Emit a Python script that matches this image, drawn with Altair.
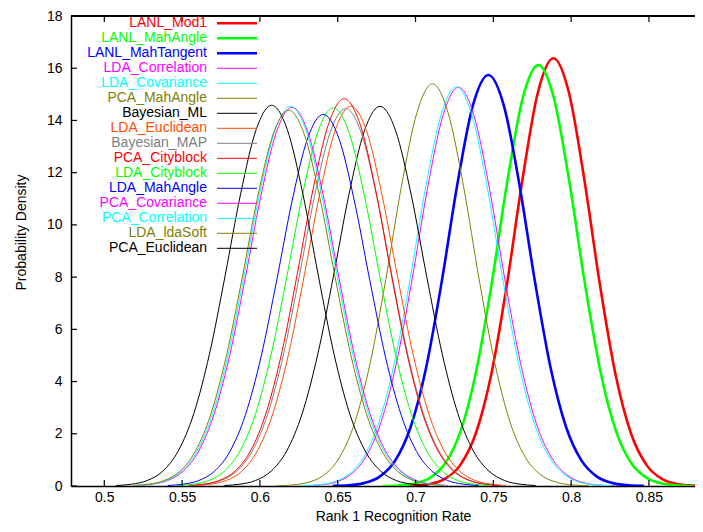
import altair as alt
import pandas as pd

# ---------------- data ----------------
SERIES = ["LANL_Mod1", "LANL_MahAngle", "LANL_MahTangent", "LDA_Correlation",
          "LDA_Covariance", "PCA_MahAngle", "Bayesian_ML", "LDA_Euclidean",
          "Bayesian_MAP", "PCA_Cityblock", "LDA_Cityblock", "LDA_MahAngle",
          "PCA_Covariance", "PCA_Correlation", "LDA_ldaSoft", "PCA_Euclidean"]
COLORS = ["#ff0000", "#00ff00", "#0000ff", "#ff00ff", "#00ffff", "#808000",
          "#000000", "#ff4d00", "#808080", "#ff0000", "#00ff00", "#0000ff",
          "#ff00ff", "#00ffff", "#808000", "#000000"]
WIDTHS = [2.6, 2.6, 2.6] + [1.0] * 13

X_TICKS = [0.5, 0.55, 0.6, 0.65, 0.7, 0.75, 0.8, 0.85]
Y_TICKS = [0, 2, 4, 6, 8, 10, 12, 14, 16, 18]

X_LANL_Mod1 = [0.6886, 0.6986, 0.7086, 0.7186, 0.7286, 0.7386, 0.7486, 0.7586, 0.7686, 0.7786, 0.7886,
               0.7986, 0.8086, 0.8186, 0.8286, 0.8386, 0.8486, 0.8586, 0.8686, 0.8786, 0.8886]
Y_LANL_Mod1 = [0.00, 0.02, 0.07, 0.26, 0.79, 1.99, 4.25, 7.67, 11.69, 15.06, 16.38,
               15.06, 11.69, 7.67, 4.25, 1.99, 0.79, 0.26, 0.07, 0.02, 0.00]

X_LANL_MahAngle = [0.6789, 0.6889, 0.6989, 0.7089, 0.7189, 0.7289, 0.7389, 0.7489, 0.7589, 0.7689, 0.7789,
                   0.7889, 0.7989, 0.8089, 0.8189, 0.8289, 0.8389, 0.8489, 0.8589, 0.8689, 0.8789]
Y_LANL_MahAngle = [0.00, 0.02, 0.09, 0.30, 0.85, 2.09, 4.37, 7.73, 11.63, 14.86, 16.12,
                   14.86, 11.63, 7.73, 4.37, 2.09, 0.85, 0.30, 0.09, 0.02, 0.00]

X_LANL_MahTangent = [0.6468, 0.6568, 0.6668, 0.6768, 0.6868, 0.6968, 0.7068, 0.7168, 0.7268, 0.7368, 0.7468,
                     0.7568, 0.7668, 0.7768, 0.7868, 0.7968, 0.8068, 0.8168, 0.8268, 0.8368, 0.8468]
Y_LANL_MahTangent = [0.01, 0.03, 0.11, 0.35, 0.96, 2.25, 4.53, 7.81, 11.53, 14.56, 15.74,
                     14.56, 11.53, 7.81, 4.53, 2.25, 0.96, 0.35, 0.11, 0.03, 0.01]

X_LDA_Correlation = [0.6276, 0.6376, 0.6476, 0.6576, 0.6676, 0.6776, 0.6876, 0.6976, 0.7076, 0.7176, 0.7276,
                     0.7376, 0.7476, 0.7576, 0.7676, 0.7776, 0.7876, 0.7976, 0.8076, 0.8176, 0.8276]
Y_LDA_Correlation = [0.01, 0.04, 0.13, 0.41, 1.07, 2.40, 4.68, 7.85, 11.36, 14.18, 15.27,
                     14.18, 11.36, 7.85, 4.68, 2.40, 1.07, 0.41, 0.13, 0.04, 0.01]

X_LDA_Covariance = [0.6263, 0.6363, 0.6463, 0.6563, 0.6663, 0.6763, 0.6863, 0.6963, 0.7063, 0.7163, 0.7263,
                    0.7363, 0.7463, 0.7563, 0.7663, 0.7763, 0.7863, 0.7963, 0.8063, 0.8163, 0.8263]
Y_LDA_Covariance = [0.01, 0.04, 0.13, 0.41, 1.07, 2.41, 4.68, 7.85, 11.37, 14.19, 15.28,
                    14.19, 11.37, 7.85, 4.68, 2.41, 1.07, 0.41, 0.13, 0.04, 0.01]

X_PCA_MahAngle = [0.6109, 0.6209, 0.6309, 0.6409, 0.6509, 0.6609, 0.6709, 0.6809, 0.6909, 0.7009, 0.7109,
                  0.7209, 0.7309, 0.7409, 0.7509, 0.7609, 0.7709, 0.7809, 0.7909, 0.8009, 0.8109]
Y_PCA_MahAngle = [0.01, 0.04, 0.14, 0.41, 1.07, 2.42, 4.72, 7.91, 11.46, 14.30, 15.40,
                  14.30, 11.46, 7.91, 4.72, 2.42, 1.07, 0.41, 0.14, 0.04, 0.01]

X_Bayesian_ML = [0.5772, 0.5872, 0.5972, 0.6072, 0.6172, 0.6272, 0.6372, 0.6472, 0.6572, 0.6672, 0.6772,
                 0.6872, 0.6972, 0.7072, 0.7172, 0.7272, 0.7372, 0.7472, 0.7572, 0.7672, 0.7772]
Y_Bayesian_ML = [0.02, 0.07, 0.21, 0.57, 1.34, 2.78, 5.05, 8.02, 11.16, 13.61, 14.54,
                 13.61, 11.16, 8.02, 5.05, 2.78, 1.34, 0.57, 0.21, 0.07, 0.02]

X_LDA_Euclidean = [0.5584, 0.5684, 0.5784, 0.5884, 0.5984, 0.6084, 0.6184, 0.6284, 0.6384, 0.6484, 0.6584,
                   0.6684, 0.6784, 0.6884, 0.6984, 0.7084, 0.7184, 0.7284, 0.7384, 0.7484, 0.7584]
Y_LDA_Euclidean = [0.02, 0.07, 0.21, 0.57, 1.35, 2.79, 5.05, 8.03, 11.17, 13.62, 14.55,
                   13.62, 11.17, 8.03, 5.05, 2.79, 1.35, 0.57, 0.21, 0.07, 0.02]

X_Bayesian_MAP = [0.5551, 0.5651, 0.5751, 0.5851, 0.5951, 0.6051, 0.6151, 0.6251, 0.6351, 0.6451, 0.6551,
                  0.6651, 0.6751, 0.6851, 0.6951, 0.7051, 0.7151, 0.7251, 0.7351, 0.7451, 0.7551]
Y_Bayesian_MAP = [0.02, 0.07, 0.21, 0.57, 1.34, 2.77, 5.02, 7.97, 11.09, 13.53, 14.45,
                  13.53, 11.09, 7.97, 5.02, 2.77, 1.34, 0.57, 0.21, 0.07, 0.02]

X_PCA_Cityblock = [0.5542, 0.5642, 0.5742, 0.5842, 0.5942, 0.6042, 0.6142, 0.6242, 0.6342, 0.6442, 0.6542,
                   0.6642, 0.6742, 0.6842, 0.6942, 0.7042, 0.7142, 0.7242, 0.7342, 0.7442, 0.7542]
Y_PCA_Cityblock = [0.02, 0.07, 0.22, 0.58, 1.37, 2.84, 5.15, 8.18, 11.38, 13.88, 14.83,
                   13.88, 11.38, 8.18, 5.15, 2.84, 1.37, 0.58, 0.22, 0.07, 0.02]

X_LDA_Cityblock = [0.5472, 0.5572, 0.5672, 0.5772, 0.5872, 0.5972, 0.6072, 0.6172, 0.6272, 0.6372, 0.6472,
                   0.6572, 0.6672, 0.6772, 0.6872, 0.6972, 0.7072, 0.7172, 0.7272, 0.7372, 0.7472]
Y_LDA_Cityblock = [0.02, 0.07, 0.21, 0.57, 1.34, 2.77, 5.03, 7.99, 11.11, 13.55, 14.48,
                   13.55, 11.11, 7.99, 5.03, 2.77, 1.34, 0.57, 0.21, 0.07, 0.02]

X_LDA_MahAngle = [0.5407, 0.5507, 0.5607, 0.5707, 0.5807, 0.5907, 0.6007, 0.6107, 0.6207, 0.6307, 0.6407,
                  0.6507, 0.6607, 0.6707, 0.6807, 0.6907, 0.7007, 0.7107, 0.7207, 0.7307, 0.7407]
Y_LDA_MahAngle = [0.02, 0.07, 0.21, 0.56, 1.32, 2.73, 4.94, 7.85, 10.92, 13.32, 14.23,
                  13.32, 10.92, 7.85, 4.94, 2.73, 1.32, 0.56, 0.21, 0.07, 0.02]

X_PCA_Covariance = [0.5207, 0.5307, 0.5407, 0.5507, 0.5607, 0.5707, 0.5807, 0.5907, 0.6007, 0.6107, 0.6207,
                    0.6307, 0.6407, 0.6507, 0.6607, 0.6707, 0.6807, 0.6907, 0.7007, 0.7107, 0.7207]
Y_PCA_Covariance = [0.02, 0.07, 0.21, 0.57, 1.34, 2.78, 5.03, 8.00, 11.13, 13.57, 14.50,
                    13.57, 11.13, 8.00, 5.03, 2.78, 1.34, 0.57, 0.21, 0.07, 0.02]

X_PCA_Correlation = [0.5197, 0.5297, 0.5397, 0.5497, 0.5597, 0.5697, 0.5797, 0.5897, 0.5997, 0.6097, 0.6197,
                     0.6297, 0.6397, 0.6497, 0.6597, 0.6697, 0.6797, 0.6897, 0.6997, 0.7097, 0.7197]
Y_PCA_Correlation = [0.02, 0.07, 0.21, 0.57, 1.34, 2.78, 5.05, 8.02, 11.16, 13.61, 14.54,
                     13.61, 11.16, 8.02, 5.05, 2.78, 1.34, 0.57, 0.21, 0.07, 0.02]

X_LDA_ldaSoft = [0.5185, 0.5285, 0.5385, 0.5485, 0.5585, 0.5685, 0.5785, 0.5885, 0.5985, 0.6085, 0.6185,
                 0.6285, 0.6385, 0.6485, 0.6585, 0.6685, 0.6785, 0.6885, 0.6985, 0.7085, 0.7185]
Y_LDA_ldaSoft = [0.02, 0.07, 0.21, 0.56, 1.33, 2.76, 5.00, 7.94, 11.05, 13.47, 14.39,
                 13.47, 11.05, 7.94, 5.00, 2.76, 1.33, 0.56, 0.21, 0.07, 0.02]

X_PCA_Euclidean = [0.5076, 0.5176, 0.5276, 0.5376, 0.5476, 0.5576, 0.5676, 0.5776, 0.5876, 0.5976, 0.6076,
                   0.6176, 0.6276, 0.6376, 0.6476, 0.6576, 0.6676, 0.6776, 0.6876, 0.6976, 0.7076]
Y_PCA_Euclidean = [0.02, 0.07, 0.21, 0.57, 1.35, 2.79, 5.06, 8.04, 11.19, 13.65, 14.58,
                   13.65, 11.19, 8.04, 5.06, 2.79, 1.35, 0.57, 0.21, 0.07, 0.02]

CURVES = {
    "LANL_Mod1": (X_LANL_Mod1, Y_LANL_Mod1),
    "LANL_MahAngle": (X_LANL_MahAngle, Y_LANL_MahAngle),
    "LANL_MahTangent": (X_LANL_MahTangent, Y_LANL_MahTangent),
    "LDA_Correlation": (X_LDA_Correlation, Y_LDA_Correlation),
    "LDA_Covariance": (X_LDA_Covariance, Y_LDA_Covariance),
    "PCA_MahAngle": (X_PCA_MahAngle, Y_PCA_MahAngle),
    "Bayesian_ML": (X_Bayesian_ML, Y_Bayesian_ML),
    "LDA_Euclidean": (X_LDA_Euclidean, Y_LDA_Euclidean),
    "Bayesian_MAP": (X_Bayesian_MAP, Y_Bayesian_MAP),
    "PCA_Cityblock": (X_PCA_Cityblock, Y_PCA_Cityblock),
    "LDA_Cityblock": (X_LDA_Cityblock, Y_LDA_Cityblock),
    "LDA_MahAngle": (X_LDA_MahAngle, Y_LDA_MahAngle),
    "PCA_Covariance": (X_PCA_Covariance, Y_PCA_Covariance),
    "PCA_Correlation": (X_PCA_Correlation, Y_PCA_Correlation),
    "LDA_ldaSoft": (X_LDA_ldaSoft, Y_LDA_ldaSoft),
    "PCA_Euclidean": (X_PCA_Euclidean, Y_PCA_Euclidean),
}

# ---------------- tables ----------------
rows = []
for i, name in enumerate(SERIES):
    xs, ys = CURVES[name]
    for x, y in zip(xs, ys):
        rows.append({"series": name, "idx": i, "x": x, "y": y,
                     "color": COLORS[i], "w": WIDTHS[i]})
curves_df = pd.DataFrame(rows)
legend_df = pd.DataFrame({"series": SERIES, "color": COLORS, "w": WIDTHS})
xt_df = pd.DataFrame({"t": X_TICKS})
yt_df = pd.DataFrame({"t": Y_TICKS})

FONT = "Liberation Sans"
W, H = 624, 470
XDOM = [0.4786, 0.8796]
YDOM = [0, 18]

xscale = alt.Scale(domain=XDOM, nice=False, zero=False)
yscale = alt.Scale(domain=YDOM, nice=False)

lines = alt.Chart(curves_df).mark_line(interpolate="monotone", clip=True).encode(
    x=alt.X("x:Q", scale=xscale,
            axis=alt.Axis(values=X_TICKS, format="~g", ticks=False, grid=False,
                          domainColor="black", domainWidth=1.5,
                          labelFont=FONT, labelFontSize=14, labelColor="black",
                          labelPadding=4,
                          title="Rank 1 Recognition Rate", titleFont=FONT,
                          titleFontSize=14, titleFontWeight="normal",
                          titleColor="black", titleX=322, titleY=34,
                          titleBaseline="alphabetic", titleAlign="center")),
    y=alt.Y("y:Q", scale=yscale,
            axis=alt.Axis(values=Y_TICKS, format="d", ticks=False, grid=False,
                          domainColor="black", domainWidth=1.5,
                          labelFont=FONT, labelFontSize=14, labelColor="black",
                          labelPadding=9,
                          title="Probability Density", titleFont=FONT,
                          titleFontSize=14, titleFontWeight="normal",
                          titleColor="black", titleX=-50, titleY=216,
                          titleBaseline="middle", titleAlign="center")),
    detail="series:N",
    color=alt.Color("color:N", scale=None),
    strokeWidth=alt.StrokeWidth("w:Q", scale=None),
    order=alt.Order("x:Q"),
)

bottom_ticks = alt.Chart(xt_df).mark_rule(color="black", strokeWidth=1.2).encode(
    x=alt.X("t:Q", scale=xscale), y=alt.value(H), y2=alt.value(H - 6))
top_ticks = alt.Chart(xt_df).mark_rule(color="black", strokeWidth=1.2).encode(
    x=alt.X("t:Q", scale=xscale), y=alt.value(0), y2=alt.value(6))
left_ticks = alt.Chart(yt_df).mark_rule(color="black", strokeWidth=1.2).encode(
    y=alt.Y("t:Q", scale=yscale), x=alt.value(0), x2=alt.value(6))
top_border = alt.Chart(xt_df).mark_rule(color="black", strokeWidth=1.5).encode(
    x=alt.value(0), x2=alt.value(W), y=alt.value(0))

main = alt.layer(lines, bottom_ticks, top_ticks, left_ticks, top_border)

leg_y = alt.Y("series:N", sort=SERIES, axis=None,
              scale=alt.Scale(type="point", range=[7.3, 232.3], padding=0))
legend_text = alt.Chart(legend_df).mark_text(
    align="right", baseline="middle", font=FONT, fontSize=14).encode(
    x=alt.value(136), y=leg_y, text="series:N",
    color=alt.Color("color:N", scale=None))
legend_lines = alt.Chart(legend_df).mark_rule().encode(
    x=alt.value(146), x2=alt.value(186), y=leg_y,
    color=alt.Color("color:N", scale=None),
    strokeWidth=alt.StrokeWidth("w:Q", scale=None))

chart = alt.layer(main, legend_text, legend_lines).resolve_scale(
    y="independent"
).properties(
    width=W, height=H,
    padding={"left": 63, "top": 8, "right": 0, "bottom": 38},
    autosize=alt.AutoSizeParams(type="none"),
    background="white",
).configure_view(stroke=None)

chart.save("out.html", embed_options={"renderer": "svg", "actions": False})
